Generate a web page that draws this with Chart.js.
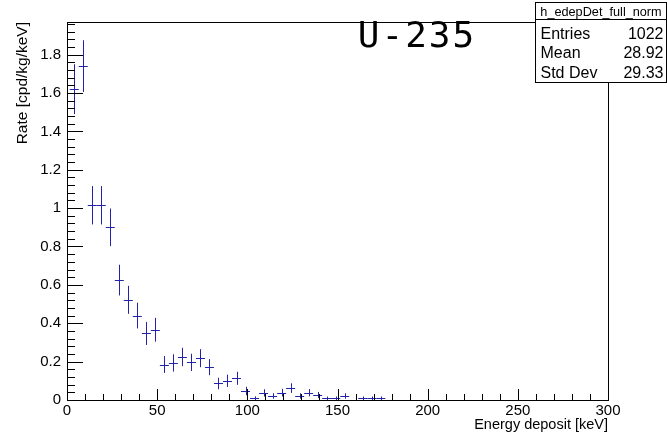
<!DOCTYPE html>
<html>
<head>
<meta charset="utf-8">
<script src="https://cdn.jsdelivr.net/npm/chart.js@4/dist/chart.umd.min.js"></script>
<style>
  body { margin: 0; background: #fff; }
</style>
</head>
<body>
<canvas id="canvas" width="667" height="437"></canvas>
<script>
// bin centres in keV (5 keV bins)
const binCenters = [4, 9, 14, 19, 24, 29, 34, 39, 44, 49, 54, 59, 64, 69, 74, 79, 84, 89, 94, 99,
  104, 109, 114, 119, 124, 129, 134, 139, 144, 149, 154, 164, 169, 174]
const rates = [1.62, 1.74, 1.015, 1.015, 0.90, 0.625, 0.522, 0.44, 0.347, 0.366, 0.185, 0.193, 0.224, 0.196, 0.218, 0.171, 0.086, 0.10, 0.113, 0.047,
  0.009, 0.037, 0.021, 0.038, 0.062, 0.021, 0.038, 0.026, 0.009, 0.009, 0.021, 0.009, 0.009, 0.009]
const rateErrors = [0.13, 0.135, 0.10, 0.10, 0.098, 0.08, 0.073, 0.067, 0.06, 0.062, 0.044, 0.045, 0.048, 0.045, 0.047, 0.042, 0.03, 0.032, 0.034, 0.022,
  0.01, 0.019, 0.014, 0.02, 0.025, 0.014, 0.019, 0.016, 0.009, 0.009, 0.014, 0.009, 0.009, 0.009]
const binWidth = 5

const statsTitle = 'h_edepDet_full_norm'
const statsNames = ['Entries', 'Mean', 'Std Dev']
const statsValues = ['1022', '28.92', '29.33']
const label = 'U-235'

const font = "'Liberation Sans', Arial, sans-serif"
const markColor = '#2222aa'

// error bars: horizontal = bin width, vertical = error
const errorBars = {
  id: 'errorBars',
  afterDatasetsDraw(chart) {
    const xs = chart.scales.x, ys = chart.scales.y
    const ctx = chart.ctx
    const area = chart.chartArea
    ctx.save()
    ctx.beginPath()
    ctx.rect(area.left, area.top, area.right - area.left, area.bottom - area.top)
    ctx.clip()
    ctx.strokeStyle = markColor
    ctx.lineWidth = 1
    binCenters.forEach((c, i) => {
      const x0 = xs.getPixelForValue(c - binWidth / 2)
      const x1 = xs.getPixelForValue(c + binWidth / 2)
      const xc = Math.round(xs.getPixelForValue(c)) + 0.5
      const yc = Math.round(ys.getPixelForValue(rates[i])) + 0.5
      const yLo = ys.getPixelForValue(rates[i] - rateErrors[i])
      const yHi = ys.getPixelForValue(rates[i] + rateErrors[i])
      ctx.beginPath()
      ctx.moveTo(x0, yc); ctx.lineTo(x1, yc)
      ctx.moveTo(xc, yLo); ctx.lineTo(xc, yHi)
      ctx.stroke()
    })
    ctx.restore()
  }
}

// ROOT style frame, inner ticks, stats box and label
const rootFrame = {
  id: 'rootFrame',
  afterDraw(chart) {
    const xs = chart.scales.x, ys = chart.scales.y
    const ctx = chart.ctx
    const a = chart.chartArea
    ctx.save()
    ctx.strokeStyle = '#000'
    ctx.lineWidth = 1
    ctx.strokeRect(Math.round(a.left) + 0.5, Math.round(a.top) + 0.5, Math.round(a.right - a.left), Math.round(a.bottom - a.top))
    ctx.beginPath()
    for (let k = 0; k <= 30; k++) {
      const v = k * 10
      const px = Math.round(xs.getPixelForValue(v)) + 0.5
      const len = k % 5 == 0 ? 11 : 6
      ctx.moveTo(px, a.bottom); ctx.lineTo(px, a.bottom - len)
    }
    for (let k = 0; k * 0.04 <= ys.max + 1e-9; k++) {
      const py = Math.round(ys.getPixelForValue(k * 0.04)) + 0.5
      const len = k % 5 == 0 ? 16 : 8
      ctx.moveTo(a.left, py); ctx.lineTo(a.left + len, py)
    }
    ctx.stroke()

    // label
    ctx.fillStyle = '#000'
    ctx.font = "36px 'DejaVu Sans Mono', monospace"
    ctx.letterSpacing = '2px'
    ctx.textAlign = 'center'
    ctx.textBaseline = 'middle'
    ctx.fillText(label, 417, 38)
    ctx.letterSpacing = '0px'

    // stats box
    const bx = 535.5, bw = 131, by = 2.5, th = 17, bh = 80
    ctx.fillStyle = '#fff'
    ctx.fillRect(bx, by, bw, bh)
    ctx.strokeRect(bx, by, bw, bh)
    ctx.beginPath()
    ctx.moveTo(bx, by + th); ctx.lineTo(bx + bw, by + th)
    ctx.stroke()
    ctx.fillStyle = '#000'
    ctx.font = '12.7px ' + font
    ctx.textAlign = 'center'
    ctx.fillText(statsTitle, bx + bw / 2, by + th / 2 + 1)
    ctx.font = '16px ' + font
    statsNames.forEach((n, i) => {
      const ty = by + th + 15 + i * 19.5
      ctx.textAlign = 'left'
      ctx.fillText(n, bx + 5, ty)
      ctx.textAlign = 'right'
      ctx.fillText(statsValues[i], bx + bw - 3, ty)
    })
    ctx.restore()
  }
}

const ctx = document.getElementById('canvas').getContext('2d')
new Chart(ctx, {
  type: 'scatter',
  data: {
    datasets: [{
      data: binCenters.map((c, i) => ({ x: c, y: rates[i] })),
      pointRadius: 0,
      showLine: false
    }]
  },
  options: {
    responsive: false,
    animation: false,
    layout: { padding: { top: 22, right: 59, left: 0, bottom: 0 } },
    plugins: { legend: { display: false }, tooltip: { enabled: false } },
    scales: {
      x: {
        type: 'linear', min: 0, max: 300,
        afterFit: s => { s.height = 37 },
        grid: { display: false, drawTicks: false, tickLength: 0 },
        border: { display: false },
        ticks: { stepSize: 50, color: '#000', font: { family: font, size: 15 }, padding: 2, maxRotation: 0 },
        title: { display: true, text: 'Energy deposit [keV]', align: 'end', color: '#000', font: { family: font, size: 14.5 }, padding: { top: 0, bottom: 3 } }
      },
      y: {
        type: 'linear', min: 0, max: 1.97,
        afterFit: s => { s.width = 67 },
        afterBuildTicks: s => { s.ticks = s.ticks.filter(t => Math.abs(t.value / 0.2 - Math.round(t.value / 0.2)) < 1e-6) },
        grid: { display: false, drawTicks: false, tickLength: 0 },
        border: { display: false },
        ticks: { stepSize: 0.2, color: '#000', font: { family: font, size: 15 }, padding: 6,
          callback: v => String(+v.toFixed(1)) },
        title: { display: true, text: 'Rate [cpd/kg/keV]', align: 'end', color: '#000', font: { family: font, size: 15.5 }, padding: { top: 13, bottom: 0 } }
      }
    }
  },
  plugins: [errorBars, rootFrame]
})
</script>
</body>
</html>
